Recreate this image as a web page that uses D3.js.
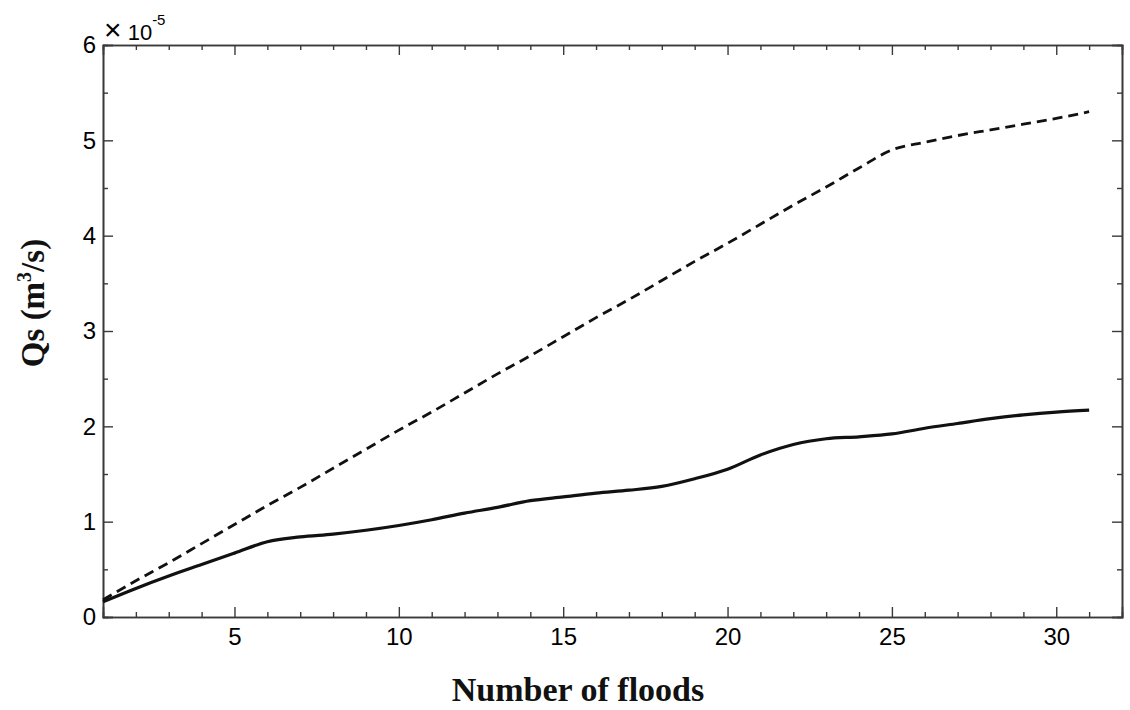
<!DOCTYPE html>
<html>
<head>
<meta charset="utf-8">
<script src="https://cdn.jsdelivr.net/npm/d3@7"></script>
<style>
  html, body { margin: 0; padding: 0; background: #fff; }
  svg { display: block; }
  .tick text { font-family: "Liberation Sans", Arial, sans-serif; font-size: 24px; fill: #000; }
</style>
</head>
<body>
<svg id="chart" width="1130" height="710"></svg>
<script>
// Number of floods (x) and sediment discharge Qs in units of 1e-5 m^3/s
const floods = [1, 2, 3, 4, 5, 6, 7, 8, 9, 10, 11, 12, 13, 14, 15, 16, 17, 18, 19, 20,
                21, 22, 23, 24, 25, 26, 27, 28, 29, 30, 31];
const qsSolid = [0.16, 0.30, 0.43, 0.55, 0.67, 0.79, 0.84, 0.87, 0.91, 0.96, 1.02, 1.09, 1.15,
                 1.22, 1.26, 1.30, 1.33, 1.37, 1.45, 1.55, 1.70, 1.81, 1.87, 1.89, 1.92, 1.98,
                 2.03, 2.08, 2.12, 2.15, 2.17];
const qsDashed = [0.18, 0.38, 0.57, 0.77, 0.97, 1.17, 1.36, 1.56, 1.76, 1.96, 2.15, 2.35, 2.55,
                  2.74, 2.94, 3.14, 3.33, 3.53, 3.73, 3.92, 4.12, 4.32, 4.51, 4.71, 4.90, 4.98,
                  5.05, 5.11, 5.17, 5.23, 5.30];
const xMajorTicks = [5, 10, 15, 20, 25, 30];
const xMinorTicks = [2, 3, 4, 6, 7, 8, 9, 11, 12, 13, 14, 16, 17, 18, 19, 21, 22, 23, 24, 26, 27, 28, 29, 31];
const yMajorTicks = [0, 1, 2, 3, 4, 5, 6];
const yMinorTicks = [0.5, 1.5, 2.5, 3.5, 4.5, 5.5];

const svg = d3.select("#chart");
const plot = { left: 103, right: 1122, top: 45, bottom: 617 };

const x = d3.scaleLinear().domain([1, 32]).range([plot.left, plot.right]);
const y = d3.scaleLinear().domain([0, 6]).range([plot.bottom, plot.top]);

const axisColor = "#3a3a3a";

function styleAxis(g) {
  g.select(".domain").attr("stroke", axisColor).attr("stroke-width", 1.6);
  g.selectAll(".tick line").attr("stroke", axisColor).attr("stroke-width", 1.4);
}

// bottom axis with labels, inward ticks
svg.append("g").attr("transform", `translate(0,${plot.bottom})`)
  .call(d3.axisBottom(x).tickValues(xMajorTicks).tickSize(-10).tickPadding(11).tickFormat(d3.format("d")))
  .call(styleAxis);
svg.append("g").attr("transform", `translate(0,${plot.bottom})`)
  .call(d3.axisBottom(x).tickValues(xMinorTicks).tickSize(-5).tickFormat(""))
  .call(styleAxis);
// top axis, ticks only
svg.append("g").attr("transform", `translate(0,${plot.top})`)
  .call(d3.axisTop(x).tickValues(xMajorTicks).tickSize(-10).tickFormat(""))
  .call(styleAxis);
svg.append("g").attr("transform", `translate(0,${plot.top})`)
  .call(d3.axisTop(x).tickValues(xMinorTicks).tickSize(-5).tickFormat(""))
  .call(styleAxis);

// left axis with labels
svg.append("g").attr("transform", `translate(${plot.left},0)`)
  .call(d3.axisLeft(y).tickValues(yMajorTicks).tickSize(-10).tickPadding(7).tickFormat(d3.format("d")))
  .call(styleAxis);
svg.append("g").attr("transform", `translate(${plot.left},0)`)
  .call(d3.axisLeft(y).tickValues(yMinorTicks).tickSize(-5).tickFormat(""))
  .call(styleAxis);
// right axis, ticks only
svg.append("g").attr("transform", `translate(${plot.right},0)`)
  .call(d3.axisRight(y).tickValues(yMajorTicks).tickSize(-10).tickFormat(""))
  .call(styleAxis);
svg.append("g").attr("transform", `translate(${plot.right},0)`)
  .call(d3.axisRight(y).tickValues(yMinorTicks).tickSize(-5).tickFormat(""))
  .call(styleAxis);

// scale multiplier above the y axis
const mult = svg.append("text")
  .attr("x", plot.left + 1).attr("y", 40)
  .attr("font-family", "Liberation Sans, Arial, sans-serif")
  .attr("font-size", 22).attr("fill", "#000");
mult.append("tspan").attr("font-size", 30).text("\u00D7");
mult.append("tspan").text(" 10");
mult.append("tspan").attr("font-size", 15).attr("dy", -15).text("-5");

// series
const lineGen = (vals) => d3.line()
  .x((d, i) => x(floods[i]))
  .y(d => y(d))
  .curve(d3.curveMonotoneX)(vals);

svg.append("path")
  .attr("d", lineGen(qsDashed))
  .attr("fill", "none").attr("stroke", "#111")
  .attr("stroke-width", 2.8).attr("stroke-dasharray", "10,6");

svg.append("path")
  .attr("d", lineGen(qsSolid))
  .attr("fill", "none").attr("stroke", "#111")
  .attr("stroke-width", 3.2);

// axis titles
svg.append("text")
  .attr("x", 578).attr("y", 701)
  .attr("text-anchor", "middle")
  .attr("font-family", "Liberation Serif, 'Times New Roman', serif")
  .attr("font-weight", "bold").attr("font-size", 34).attr("fill", "#111")
  .text("Number of floods");

const yt = svg.append("text")
  .attr("transform", "translate(44,303) rotate(-90)")
  .attr("text-anchor", "middle")
  .attr("font-family", "Liberation Serif, 'Times New Roman', serif")
  .attr("font-weight", "bold").attr("font-size", 33).attr("fill", "#111");
yt.append("tspan").text("Qs (m");
yt.append("tspan").attr("font-size", 20).attr("dy", -13).text("3");
yt.append("tspan").attr("dy", 13).text("/s)");
</script>
</body>
</html>
